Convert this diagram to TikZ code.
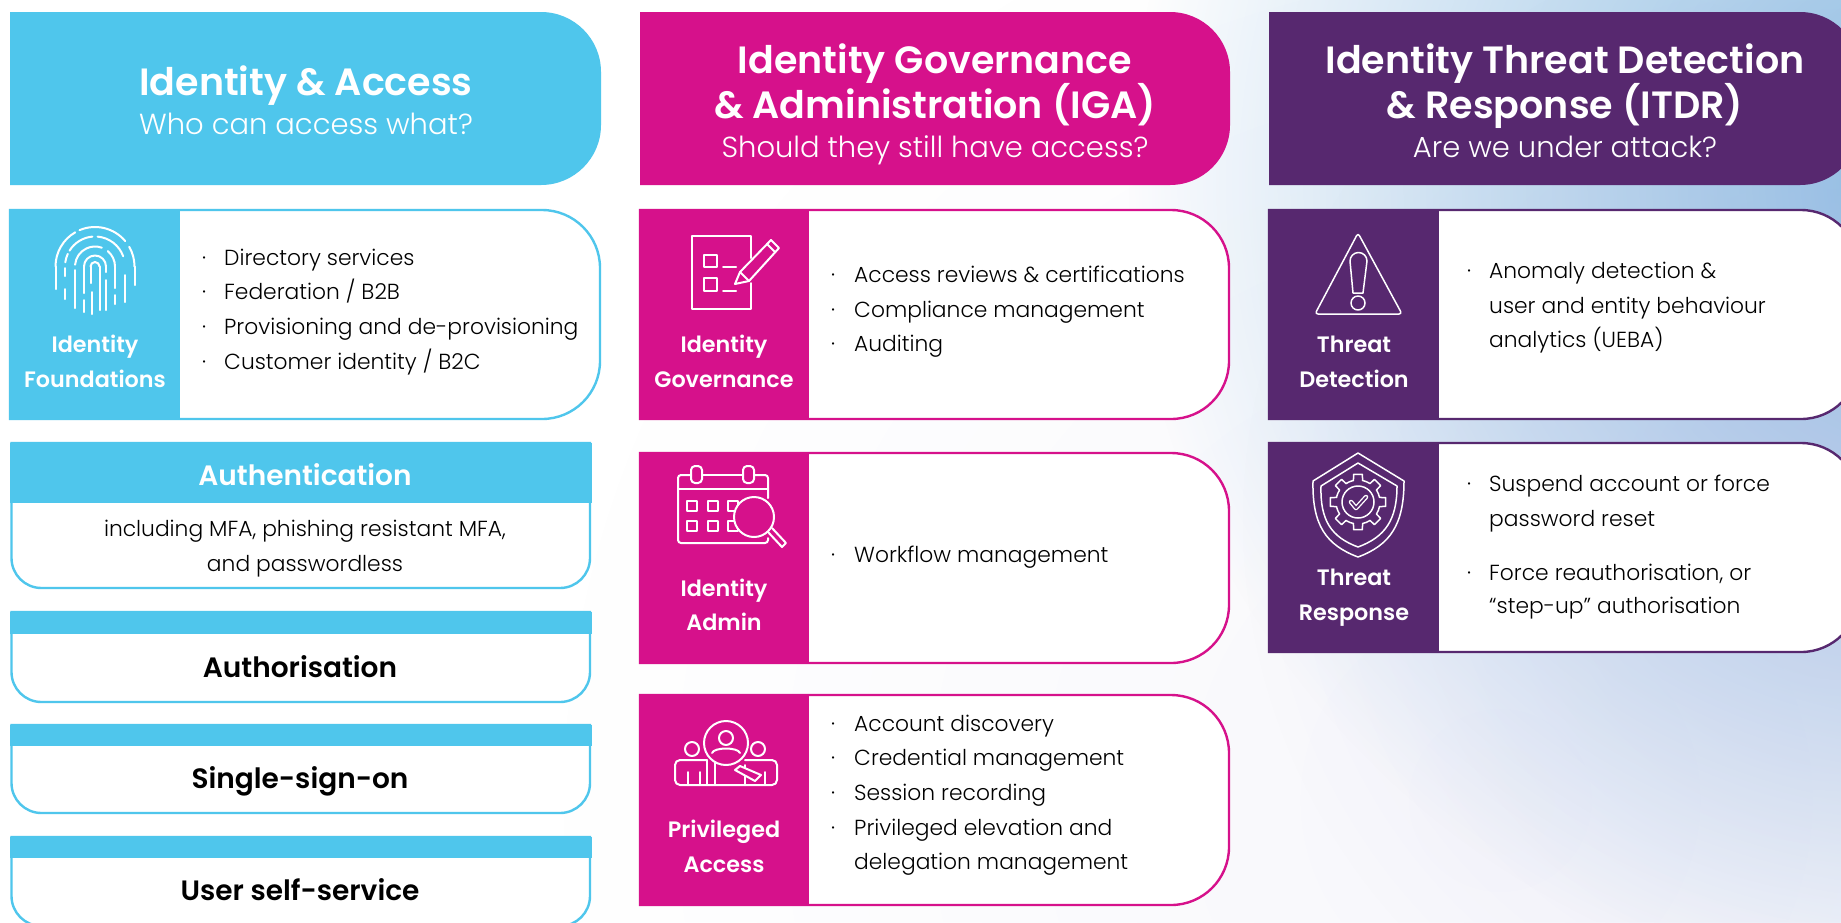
\documentclass[tikz,border=0pt]{standalone}
\usepackage{fontspec}
\setmainfont{Poppins Light}[BoldFont={Poppins SemiBold}]
\usetikzlibrary{fadings,calc}
\definecolor{cy}{HTML}{4FC6EC}
\definecolor{mg}{HTML}{D6118B}
\definecolor{pu}{HTML}{57286F}
\definecolor{bgb}{HTML}{88BAE2}
\definecolor{bgl}{HTML}{B4B4E0}
\tikzfading[name=bgfade, inner color=transparent!0, outer color=transparent!100]
\tikzset{
  x=1pt,y=-1pt,
  hd/.style={font=\fontsize{38}{44}\selectfont\bfseries,text=white,inner sep=0pt,anchor=base},
  hs/.style={font=\fontsize{29}{34}\selectfont,text=white,inner sep=0pt,anchor=base},
  lab/.style={font=\fontsize{22.3}{26}\selectfont\bfseries,text=white,inner sep=0pt,anchor=base},
  bod/.style={font=\fontsize{21.8}{26}\selectfont,text=black,inner sep=0pt,anchor=base west},
  bul/.style={font=\fontsize{21.8}{26}\selectfont,text=black,inner sep=0pt,anchor=base},
  ctr/.style={font=\fontsize{21.8}{26}\selectfont,text=black,inner sep=0pt,anchor=base},
  bbd/.style={font=\fontsize{28}{32}\selectfont\bfseries,text=black,inner sep=0pt,anchor=base},
  ban/.style={font=\fontsize{28}{32}\selectfont\bfseries,text=white,inner sep=0pt,anchor=base},
  ic/.style={draw=white,line width=2pt,line cap=round,line join=round},
  icm/.style={draw=white,line width=1.5pt,line cap=round,line join=round},
}
\newcommand{\headbox}[6]{% x0,x1,y0,y1,r,col
  \fill[#6] (#1,#3) -- ({#2-#5},#3) arc[start angle=90,end angle=0,radius=#5 pt] -- (#2,{#4-#5}) arc[start angle=0,end angle=-90,radius=#5 pt] -- (#1,#4) -- cycle;
}
\newcommand{\cardbox}[7]{% x0,xp,x1,y0,y1,r,col
  \fill[white,draw=#7,line width=2.4pt] (#1,#4) -- ({#3-#6},#4) arc[start angle=90,end angle=0,radius=#6 pt] -- (#3,{#5-#6}) arc[start angle=0,end angle=-90,radius=#6 pt] -- (#1,#5) -- cycle;
  \fill[#7] (#1,{#4-1.2}) rectangle (#2,{#5+1.2});
}
\newcommand{\bandbox}[3]{% ytop,yband,ybot
  \fill[white,draw=cy,line width=2.4pt] (11.5,#1) -- (590,#1) -- (590,{#3-30}) arc[start angle=0,end angle=-90,radius=30pt] -- (41.5,#3) arc[start angle=270,end angle=180,radius=30pt] -- cycle;
  \fill[cy] (10,#1) rectangle (591.5,#2);
}
\begin{document}
\begin{tikzpicture}
\useasboundingbox (0,0) rectangle (1841,922);
% background
\fill[white] (0,0) rectangle (1841,922);
\begin{scope}
\clip (0,0) rectangle (1841,922);
\fill[bgl,path fading=bgfade,opacity=.1] (1500,800) circle[radius=950];
\fill[bgb,path fading=bgfade] (1950,180) circle[radius=820];
\fill[bgl,path fading=bgfade,opacity=.3] (1841,520) circle[radius=600];
\end{scope}

% column 1
\headbox{10}{601}{12}{185}{60}{cy}
\node[hd] (h1a) at (306,95) {Identity \& Access};
\node[hs] (h1b) at (306,134) {Who can access what?};
\cardbox{10}{180}{600}{210}{419}{58}{cy}
\node[lab] (l1a) at (95,352) {Identity};
\node[lab] (l1b) at (95,387) {Foundations};
\foreach \y/\t in {265/{Directory services},299/{Federation / B2B},334/{Provisioning and de-provisioning},369/{Customer identity / B2C}}{
  \node[bul] at (204,\y) {·};
  \node[bod] at (224,\y) {\t};
}
% fingerprint
\begin{scope}[ic]
\def\cx{95}\def\cy{266.5}
\foreach \r/\a/\b in {39.5/180/120,39.5/113/40,39.5/30/0,30/172/155,30/148/95,30/85/20,20/175/70,20/50/0,11/180/0,4.5/180/0}{
  \draw ($(\cx,\cy)+(\a:\r pt)$) arc[start angle=\a,end angle=\b,radius=\r pt];
}
\draw (56,266.5) -- (56,289);
\draw (134.5,266.5) -- (134.5,285);
\draw (65,289) -- (65,299);
\draw (65,268) -- (65,276);
\draw (125,275) -- (125,302);
\draw (75,270) -- (75,308);
\draw (115,266.5) -- (115,288);
\draw (114.5,295) -- (114.5,304);
\draw (84,266.5) -- (84,293);
\draw (84,300) -- (84,312);
\draw (106,266.5) -- (106,272);
\draw (106,280) -- (106,310);
\draw (90.5,266.5) -- (90.5,283);
\draw (92,292) -- (92,314);
\draw (99.5,266.5) -- (99.5,310);
\end{scope}

\bandbox{443}{503}{588}
\node[ban] (au) at (305,485) {Authentication};
\node[ctr] (au1) at (305,536) {including MFA, phishing resistant MFA,};
\node[ctr] (au2) at (305,571) {and passwordless};
\bandbox{612}{634}{702}
\node[bbd] (az) at (300,677) {Authorisation};
\bandbox{725}{746}{813}
\node[bbd] (ss) at (300,788) {Single-sign-on};
\bandbox{837}{858}{926}
\node[bbd] (us) at (300,900) {User self-service};

% column 2
\headbox{640}{1230}{12}{185}{60}{mg}
\node[hd] (h2a) at (935,73) {Identity Governance};
\node[hd] (h2b) at (935,118) {\& Administration (IGA)};
\node[hs] (h2c) at (935,157) {Should they still have access?};
\cardbox{640}{809}{1229}{210}{419}{58}{mg}
\node[lab] at (724,352) {Identity};
\node[lab] at (724,387) {Governance};
\foreach \y/\t in {282/Access reviews \& certifications,317/Compliance management,351/Auditing}{
  \node[bul] at (833,\y) {·};
  \node[bod] at (854,\y) {\t};
}
% checklist icon
\begin{scope}[ic]
\draw (751,258) -- (751,236) -- (692,236) -- (692,309) -- (751,309) -- (751,283);
\draw (704,255) rectangle (717,267);
\draw (704,278) rectangle (717,291);
\draw (723,267) -- (736,267);
\draw (723,291) -- (736,291);
\draw (735,284) -- (740,272) -- (771,240) -- (779,248) -- (749,281) -- cycle;
\draw (740,272) -- (749,281);
\draw (767,244) -- (775,252);
\end{scope}

\cardbox{640}{809}{1229}{453}{663}{58}{mg}
\node[lab] at (724,596) {Identity};
\node[lab] at (724,630) {Admin};
\node[bul] at (833,562) {·};
\node[bod] at (854,562) {Workflow management};
% calendar icon
\begin{scope}[ic]
\draw[rounded corners=3pt] (691,475) -- (678,475) -- (678,543) -- (768,543) -- (768,538);
\draw (702,475) -- (743,475);
\draw[rounded corners=3pt] (754,475) -- (768,475) -- (768,498);
\draw (678,489) -- (768,489);
\draw[rounded corners=4pt] (691,466) rectangle (702,483);
\draw[rounded corners=4pt] (743,466) rectangle (754,483);
\draw (687,501) rectangle (697,511);
\draw (708,501) rectangle (718,511);
\draw (728,501) rectangle (738,511);
\draw (687,521) rectangle (697,531);
\draw (708,521) rectangle (718,531);
\draw (728,521) rectangle (738,531);
\draw[fill=mg] (754,517) circle[radius=20pt];
\draw (768,532) -- (782,547) -- (786,543) -- (772,528);
\end{scope}

\cardbox{640}{809}{1229}{695}{905}{58}{mg}
\node[lab] at (724,837) {Privileged};
\node[lab] at (724,872) {Access};
\foreach \y/\t in {731/Account discovery,765/Credential management,800/Session recording,835/Privileged elevation and}{
  \node[bul] at (833,\y) {·};
  \node[bod] at (854,\y) {\t};
}
\node[bod] at (854,869) {delegation management};
% people icon
\begin{scope}[ic]
\draw (692,749) circle[radius=7pt];
\draw (758,749) circle[radius=7pt];
\draw[rounded corners=5pt] (707,760) -- (675,760) -- (675,785) -- (745,785);
\draw[rounded corners=5pt] (745,760) -- (777,760) -- (777,785) -- (745,785);
\draw (688,772) -- (688,785);
\draw (700,772) -- (700,785);
\draw (707,760) -- (707,785);
\draw (745,765) -- (745,785);
\draw (765,772) -- (765,785);
\draw (715,762) -- (715,785);
\draw[fill=mg] (726,743) circle[radius=22pt];
\draw (726,738) circle[radius=7pt];
\draw (712,753) .. controls (714,747) and (738,747) .. (740,753);
\draw[fill=mg] (740,766) -- (761,775) -- (755,781) -- (735,770) -- cycle;
\end{scope}

% column 3
\begin{scope}
\clip (0,0) rectangle (1841,922);
\headbox{1269}{1860}{12}{185}{60}{pu}
\cardbox{1269}{1439}{1859}{210}{419}{58}{pu}
\cardbox{1269}{1439}{1859}{443}{652}{58}{pu}
\end{scope}
\node[hd] (h3a) at (1565,73) {Identity Threat Detection};
\node[hd] (h3b) at (1565,118) {\& Response (ITDR)};
\node[hs] (h3c) at (1565,157) {Are we under attack?};
\node[lab] at (1354,352) {Threat};
\node[lab] at (1354,387) {Detection};
\node[lab] at (1354,585) {Threat};
\node[lab] at (1354,620) {Response};
\foreach \y/\b/\t in {278/1/Anomaly detection \&,313/0/user and entity behaviour,347/0/analytics (UEBA),491/1/Suspend account or force,526/0/password reset,580/1/{Force reauthorisation, or},613/0/{“step-up” authorisation}}{
  \ifnum\b=1 \node[bul] at (1469,\y) {·};\fi
  \node[bod] at (1489,\y) {\t};
}
% warning icon
\begin{scope}[icm]
\draw[rounded corners=3pt] (1358,233) -- (1402,314) -- (1315,314) -- cycle;
\draw (1350,261) arc[start angle=180,end angle=0,radius=8.5pt] -- (1363,293) -- (1353,293) -- cycle;
\draw (1358,303) circle[radius=7pt];
\end{scope}
% shield icon
\begin{scope}[icm]
\draw (1358,453) -- (1404,481) .. controls (1404,525) and (1390,545) .. (1358,557) .. controls (1326,545) and (1312,525) .. (1313,481) -- cycle;
\draw (1358,463) -- (1397,486) .. controls (1397,520) and (1385,537) .. (1358,547) .. controls (1331,537) and (1320,520) .. (1321,486) -- cycle;
\draw (1358,502) circle[radius=16pt];
\draw[line width=4.5pt] (1351,502) -- (1356,508) -- (1366,497);
\draw[draw=pu,line width=1.8pt] (1351,502) -- (1356,508) -- (1366,497);
\foreach \a in {0,45,...,315}{
  \draw ($(1358,502)+(\a-12:22pt)$) -- ($(1358,502)+(\a-9:28pt)$) -- ($(1358,502)+(\a+9:28pt)$) -- ($(1358,502)+(\a+12:22pt)$) arc[start angle=\a+12,end angle=\a+33,radius=22pt];
}
\end{scope}
\end{tikzpicture}
\end{document}
